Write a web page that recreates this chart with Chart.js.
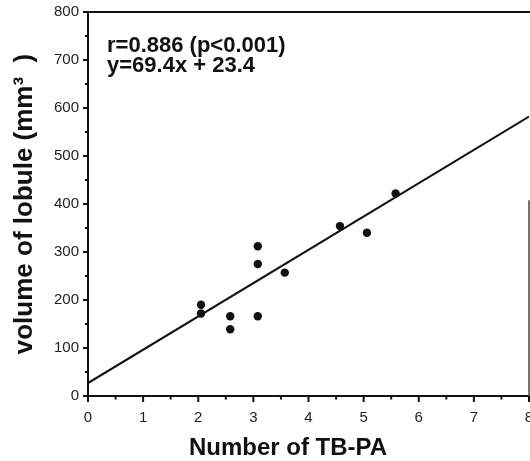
<!DOCTYPE html>
<html>
<head>
<style>
  html, body { margin: 0; padding: 0; background: #fff; }
  #wrap { width: 530px; height: 461px; }
</style>
</head>
<body>
<div id="wrap"><canvas id="chart"></canvas></div>
<script src="https://cdn.jsdelivr.net/npm/chart.js"></script>
<script>
// values
const tbpa   = [2.05, 2.05, 2.58, 2.58, 3.08, 3.08, 3.08, 3.57, 4.57, 5.06, 5.58];
const volume = [190, 172, 166, 139, 312, 275, 166, 257, 354, 340, 422];
const fitX = [0, 8];
const fitY = [27, 582];
const xMin = 0, xMax = 8, xStep = 0.5;
const yMin = 0, yMax = 800, yStep = 50;
const statText = ['r=0.886 (p<0.001)', 'y=69.4x + 23.4'];
const xTitle = 'Number of TB-PA';
const yTitle = 'volume of lobule (mm\u00b3  )';

const FONT = "'Liberation Sans', Arial, Helvetica, sans-serif";
const INK = '#111';

// axis box, tick marks and the text block
const frame = {
  id: 'frame',
  beforeDatasetsDraw(chart) {
    const {ctx, chartArea: a, scales: {x, y}} = chart;
    ctx.save();
    ctx.strokeStyle = INK;
    ctx.lineCap = 'butt';

    // axes
    ctx.lineWidth = 2;
    ctx.beginPath();
    ctx.moveTo(a.left, y.getPixelForValue(yMax) - 1);
    ctx.lineTo(a.left, y.getPixelForValue(yMin) + 6);
    ctx.moveTo(a.left - 5, y.getPixelForValue(yMin));
    ctx.lineTo(x.getPixelForValue(xMax), y.getPixelForValue(yMin));
    ctx.moveTo(a.left, y.getPixelForValue(yMax));
    ctx.lineTo(530, y.getPixelForValue(yMax));
    ctx.stroke();

    // right edge only shows in the lower part of the scan
    ctx.lineWidth = 1.5;
    ctx.strokeStyle = '#444';
    ctx.beginPath();
    ctx.moveTo(x.getPixelForValue(xMax), y.getPixelForValue(408));
    ctx.lineTo(x.getPixelForValue(xMax), y.getPixelForValue(yMin) + 6);
    ctx.stroke();

    ctx.strokeStyle = INK;
    ctx.lineWidth = 2;
    ctx.beginPath();
    for (let v = xMin; v <= xMax; v += xStep) {
      const px = x.getPixelForValue(v);
      const len = v % 1 === 0 ? 6 : 3.5;
      ctx.moveTo(px, a.bottom);
      ctx.lineTo(px, a.bottom + len);
    }
    for (let v = yMin; v <= yMax; v += yStep) {
      const py = y.getPixelForValue(v);
      const len = v % 100 === 0 ? 5 : 3;
      ctx.moveTo(a.left, py);
      ctx.lineTo(a.left - len, py);
    }
    ctx.stroke();

    ctx.fillStyle = INK;
    ctx.textAlign = 'left';
    ctx.textBaseline = 'alphabetic';
    ctx.font = 'bold 22px ' + FONT;
    ctx.fillText(statText[0], 107, 52);
    ctx.fillText(statText[1], 107, 72);

    ctx.textAlign = 'center';
    ctx.font = 'bold 24px ' + FONT;
    ctx.fillText(xTitle, 288, 455);
    ctx.restore();
  }
};

new Chart(document.getElementById('chart'), {
  type: 'scatter',
  data: {
    datasets: [
      {
        data: fitX.map((v, i) => ({x: v, y: fitY[i]})),
        showLine: true,
        borderColor: INK,
        borderWidth: 2,
        pointRadius: 0,
        fill: false
      },
      {
        data: tbpa.map((v, i) => ({x: v, y: volume[i]})),
        backgroundColor: INK,
        borderWidth: 0,
        pointRadius: 4.2
      }
    ]
  },
  options: {
    responsive: true,
    maintainAspectRatio: false,
    animation: false,
    layout: { autoPadding: false, padding: { top: 12, right: 1, left: 0, bottom: 0 } },
    plugins: { legend: { display: false }, tooltip: { enabled: false } },
    scales: {
      x: {
        type: 'linear',
        min: xMin, max: xMax,
        grid: { display: false, drawTicks: false },
        border: { display: false },
        ticks: {
          stepSize: xStep,
          autoSkip: false,
          maxRotation: 0,
          padding: 13,
          color: '#222',
          font: { family: FONT, size: 15 },
          callback: v => (v % 1 === 0 ? v : '')
        },
        afterFit(scale) { scale.height = 65; scale.paddingLeft = 0; scale.paddingRight = 0; }
      },
      y: {
        type: 'linear',
        min: yMin, max: yMax,
        grid: { display: false, drawTicks: false },
        border: { display: false },
        ticks: {
          stepSize: yStep,
          autoSkip: false,
          padding: 9,
          color: '#222',
          font: { family: FONT, size: 15 },
          callback: v => (v % 100 === 0 ? v : '')
        },
        title: {
          display: true,
          text: yTitle,
          color: INK,
          font: { family: FONT, size: 26, weight: 'bold' },
          padding: { top: 9, bottom: 0 }
        },
        afterFit(scale) { scale.width = 88; scale.paddingTop = 0; scale.paddingBottom = 0; }
      }
    }
  },
  plugins: [frame]
});
</script>
</body>
</html>
